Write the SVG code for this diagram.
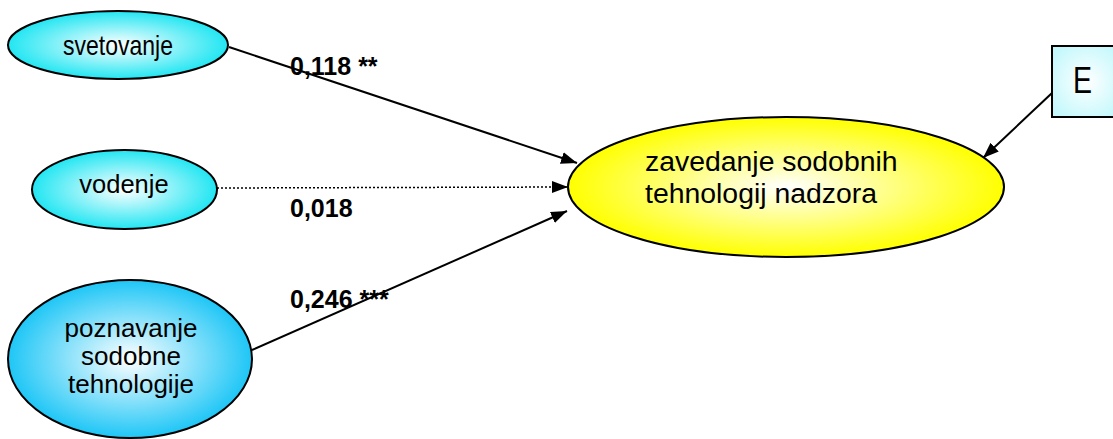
<svg xmlns="http://www.w3.org/2000/svg" width="1113" height="439" viewBox="0 0 1113 439">
  <defs>
    <radialGradient id="gCyan" cx="50%" cy="50%" r="50%">
      <stop offset="0" stop-color="#ffffff"/>
      <stop offset="1" stop-color="#22e6f2"/>
    </radialGradient>
    <radialGradient id="gBlue" cx="50%" cy="50%" r="50%">
      <stop offset="0" stop-color="#ffffff"/>
      <stop offset="1" stop-color="#1ec6f6"/>
    </radialGradient>
    <radialGradient id="gYellow" cx="50%" cy="50%" r="50%">
      <stop offset="0" stop-color="#ffffff"/>
      <stop offset="1" stop-color="#ffff00"/>
    </radialGradient>
    <radialGradient id="gBox" cx="50%" cy="50%" r="60%">
      <stop offset="0" stop-color="#ffffff"/>
      <stop offset="1" stop-color="#c4f8fc"/>
    </radialGradient>
    <marker id="arrow" markerUnits="userSpaceOnUse" markerWidth="17" markerHeight="13" refX="16" refY="6" orient="auto">
      <path d="M0,0 L16,6 L0,12 z" fill="#000"/>
    </marker>
  </defs>
  <style>
    .node { stroke: #000; stroke-width: 2; }
    .lbl { font-family: "Liberation Sans", Arial, sans-serif; fill: #000; }
    .narrow { font-family: "Liberation Sans Narrow", "Liberation Sans", Arial, sans-serif; fill: #000; }
    .coef { font-family: "Liberation Sans", Arial, sans-serif; font-weight: bold; font-size: 25px; fill: #000; }
    .edge { stroke: #000; stroke-width: 2; fill: none; marker-end: url(#arrow); }
    .dotted { stroke-width: 1.5; stroke-dasharray: 2 2; }
  </style>

  <!-- paths between the constructs -->
  <g id="connectors">
    <line class="edge" x1="229" y1="47" x2="577" y2="163"/>
    <line class="edge dotted" x1="217" y1="188" x2="568" y2="187"/>
    <line class="edge" x1="252" y1="350" x2="567" y2="211"/>
    <line class="edge" x1="1052" y1="93" x2="983" y2="158"/>
  </g>

  <g id="svetovanje">
    <ellipse class="node" cx="118" cy="45" rx="110" ry="34" fill="url(#gCyan)"/>
    <text class="narrow" x="118" y="55" font-size="28" text-anchor="middle" textLength="110" lengthAdjust="spacingAndGlyphs">svetovanje</text>
  </g>

  <g id="vodenje">
    <ellipse class="node" cx="124.5" cy="189.5" rx="92.5" ry="39.5" fill="url(#gCyan)"/>
    <text class="lbl" x="124" y="193" font-size="25.5" text-anchor="middle">vodenje</text>
  </g>

  <g id="poznavanje">
    <ellipse class="node" cx="130" cy="359" rx="122" ry="79" fill="url(#gBlue)"/>
    <text class="lbl" x="131" y="337" font-size="26" text-anchor="middle">poznavanje</text>
    <text class="lbl" x="131" y="365" font-size="26" text-anchor="middle">sodobne</text>
    <text class="lbl" x="131" y="393" font-size="26" text-anchor="middle">tehnologije</text>
  </g>

  <g id="zavedanje">
    <ellipse class="node" cx="786" cy="187" rx="218" ry="70" fill="url(#gYellow)"/>
    <text class="lbl" x="645" y="171" font-size="28.4">zavedanje sodobnih</text>
    <text class="lbl" x="645" y="203" font-size="28.4">tehnologij nadzora</text>
  </g>

  <g id="E">
    <rect class="node" x="1052" y="46" width="70" height="71" fill="url(#gBox)"/>
    <text class="lbl" x="1073" y="93" font-size="37" textLength="19" lengthAdjust="spacingAndGlyphs">E</text>
  </g>

  <!-- path coefficients -->
  <g id="coefficients">
    <text class="coef" x="290" y="75">0,118 **</text>
    <text class="coef" x="290" y="217">0,018</text>
    <text class="coef" x="290" y="308">0,246 ***</text>
  </g>
</svg>
